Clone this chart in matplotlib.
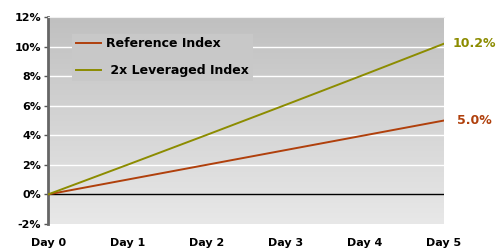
import numpy as np
import matplotlib
matplotlib.use("Agg")
import matplotlib.pyplot as plt
from matplotlib.colors import LinearSegmentedColormap

plt.rcParams["font.family"] = ["DejaVu Sans"]

days = ["Day 0", "Day 1", "Day 2", "Day 3", "Day 4", "Day 5"]
reference_index = [0.0, 1.0, 2.0, 3.0, 4.0, 5.0]
leveraged_index = [0.0, 2.0, 4.02, 6.06, 8.12, 10.2]
yticks = [-2, 0, 2, 4, 6, 8, 10, 12]
ref_color = "#b0400c"
lev_color = "#8c8c00"

fig = plt.figure(figsize=(4.96, 2.48), dpi=100)
ax = fig.add_axes([0.097, 0.097, 0.798, 0.834])

# gradient background
cmap = LinearSegmentedColormap.from_list("bg", ["#e8e8e8", "#c0c0c0"])
grad = np.linspace(0, 1, 256).reshape(-1, 1)
ax.imshow(grad, cmap=cmap, extent=[0, 1, 0, 1], transform=ax.transAxes,
          aspect="auto", origin="lower", zorder=0)

x = np.arange(len(days))
ax.set_xlim(0, len(days) - 1)
ax.set_ylim(-2, 12)
ax.set_yticks(yticks)
ax.set_yticklabels([f"{v}%" for v in yticks], fontweight="bold", fontsize=8)
for v in yticks:
    if v not in (0, -2, 12):
        ax.axhline(v, color="white", lw=1, zorder=1)
ax.axhline(0, color="black", lw=1, zorder=2)

ax.plot(x, reference_index, color=ref_color, lw=1.4, label="Reference Index", zorder=3)
ax.plot(x, leveraged_index, color=lev_color, lw=1.4, label=" 2x Leveraged Index", zorder=3)

ax.set_xticks(x)
ax.set_xticklabels(days, fontweight="bold", fontsize=8)
ax.tick_params(axis="x", length=0, pad=10)
ax.tick_params(axis="y", length=3, width=1, color="#555555", pad=2)

for s in ["right", "bottom"]:
    ax.spines[s].set_visible(False)
ax.spines["top"].set_color("#f0f0f0")
ax.spines["left"].set_color("#666666")
ax.spines["left"].set_linewidth(2)

ax.text(x[-1] + 0.11, leveraged_index[-1], f"{leveraged_index[-1]:.1f}%", color=lev_color,
        fontweight="bold", fontsize=9, va="center", ha="left", clip_on=False)
ax.text(x[-1] + 0.16, reference_index[-1], f"{reference_index[-1]:.1f}%", color=ref_color,
        fontweight="bold", fontsize=9, va="center", ha="left", clip_on=False)

leg = ax.legend(loc="upper left", bbox_to_anchor=(0.045, 0.95), frameon=True,
                facecolor="#c8c8c8", edgecolor="none", framealpha=1,
                prop={"weight": "bold", "size": 9}, handlelength=2.0,
                handletextpad=0.4, labelspacing=1.1, borderpad=0.3, fancybox=False)
leg.set_zorder(5)

fig.savefig("out.png", dpi=100)
